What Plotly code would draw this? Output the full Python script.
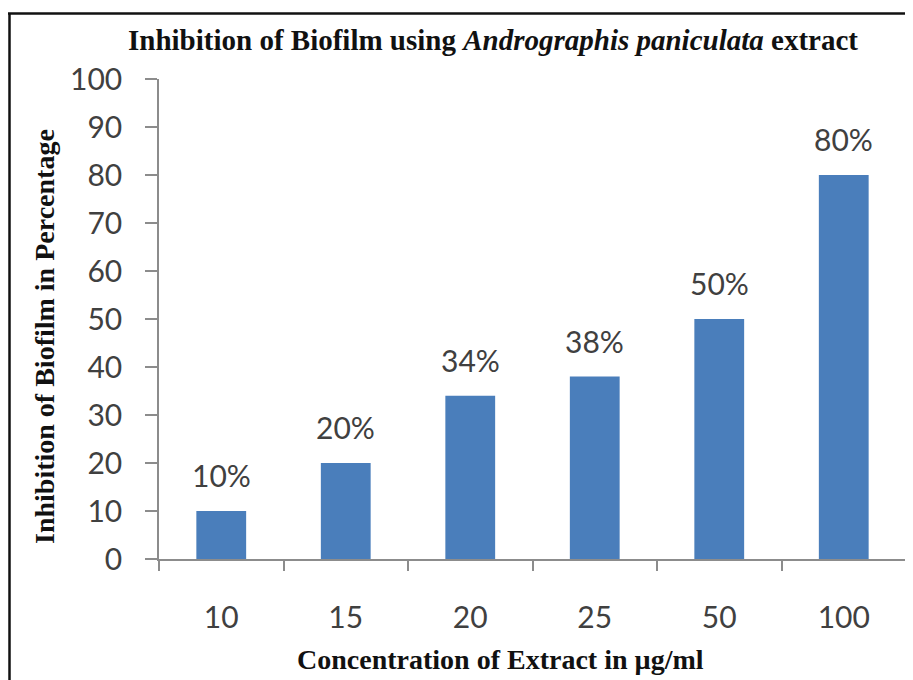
import plotly.graph_objects as go

categories = ["10", "15", "20", "25", "50", "100"]
values = [10, 20, 34, 38, 50, 80]
y_ticks = [0, 10, 20, 30, 40, 50, 60, 70, 80, 90, 100]

title_text = "Inhibition of Biofilm using <i>Andrographis paniculata</i> extract"
x_title = "Concentration of Extract in µg/ml"
y_title = "Inhibition of Biofilm in Percentage"

# the page body has an 8px margin; work in screenshot coordinates
OFF = 8
W, H = 913 - OFF, 680 - OFF
L = 159 - OFF
T = 79 - OFF
R = 913 - 906
B = (680 - OFF) - (559 - OFF)
pw, ph = W - L - R, H - T - B

def px(x):
    return (x - OFF - L) / pw

def py(y):
    return (H - B - (y - OFF)) / ph

bar_color = "#4A7EBB"
tick_color = "#404040"
axis_color = "#8C8C8C"
sans = "Lato, 'Open Sans', sans-serif"
serif = "'Liberation Serif', 'DejaVu Serif', serif"

fig = go.Figure(
    go.Bar(
        x=categories,
        y=values,
        marker=dict(color=bar_color, line=dict(width=0)),
        width=0.4,
        hoverinfo="skip",
    )
)

annotations = []
for i, v in enumerate(values):
    annotations.append(dict(
        x=i, y=v, xref="x", yref="y", text=f"{v}%", showarrow=False,
        yanchor="bottom", yshift=16,
        font=dict(family=sans, size=30, color=tick_color),
    ))

annotations += [
    dict(x=px(493), y=py(40), xref="paper", yref="paper", text=title_text,
         showarrow=False, xanchor="center", yanchor="middle",
         font=dict(family=serif, size=29, color="#111111", weight="bold")),
    dict(x=px(500), y=py(659), xref="paper", yref="paper", text=x_title,
         showarrow=False, xanchor="center", yanchor="middle",
         font=dict(family=serif, size=28, color="#111111", weight="bold")),
    dict(x=px(44), y=py(337), xref="paper", yref="paper", text=y_title,
         showarrow=False, xanchor="center", yanchor="middle", textangle=-90,
         font=dict(family=serif, size=28, color="#111111", weight="bold")),
]

shapes = [
    dict(type="line", xref="paper", yref="paper", x0=px(8), x1=px(913),
         y0=py(13.5), y1=py(13.5), line=dict(color="#111111", width=2.5)),
    dict(type="line", xref="paper", yref="paper", x0=px(9.5), x1=px(9.5),
         y0=py(13), y1=py(680), line=dict(color="#111111", width=2.5)),
]

fig.update_layout(
    width=W, height=H,
    margin=dict(l=L, r=R, t=T, b=B, pad=0),
    paper_bgcolor="white", plot_bgcolor="white",
    showlegend=False,
    bargap=0.6,
    annotations=annotations,
    shapes=shapes,
    xaxis=dict(
        type="category", range=[-0.5, 5.5],
        showline=True, linecolor=axis_color, linewidth=1.5,
        ticks="outside", tickson="boundaries", ticklen=10, tickwidth=1.5,
        tickcolor=axis_color, showgrid=False, zeroline=False,
        tickfont=dict(family=sans, size=30, color=tick_color),
        ticklabelstandoff=31,
    ),
    yaxis=dict(
        range=[0, 100], tickvals=y_ticks,
        showline=True, linecolor=axis_color, linewidth=1.5,
        ticks="outside", ticklen=12, tickwidth=1.5, tickcolor=axis_color,
        showgrid=False, zeroline=False,
        tickfont=dict(family=sans, size=30, color=tick_color),
        ticklabelstandoff=17,
    ),
)

fig.write_html("out.html")
